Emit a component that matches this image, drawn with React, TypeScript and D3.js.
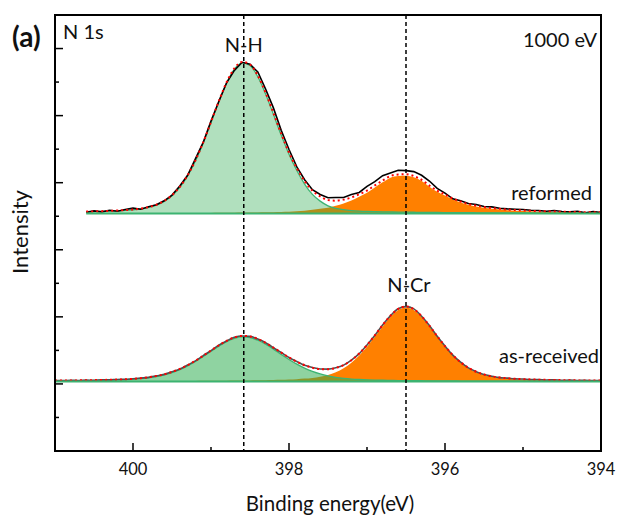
import * as d3 from "d3";

// binding energy grid (eV), read every 0.1 eV across the plot
const ENERGY = [
  401.0, 400.9, 400.8, 400.7, 400.6, 400.5, 400.4, 400.3, 400.2, 400.1,
  400.0, 399.9, 399.8, 399.7, 399.6, 399.5, 399.4, 399.3, 399.2, 399.1,
  399.0, 398.9, 398.8, 398.7, 398.6, 398.5, 398.4, 398.3, 398.2, 398.1,
  398.0, 397.9, 397.8, 397.7, 397.6, 397.5, 397.4, 397.3, 397.2, 397.1,
  397.0, 396.9, 396.8, 396.7, 396.6, 396.5, 396.4, 396.3, 396.2, 396.1,
  396.0, 395.9, 395.8, 395.7, 395.6, 395.5, 395.4, 395.3, 395.2, 395.1,
  395.0, 394.9, 394.8, 394.7, 394.6, 394.5, 394.4, 394.3, 394.2, 394.1,
  394.0,
];

// as-received spectrum (counts above its baseline)
const AR_NH = [
  2.1, 2.3, 2.5, 2.7, 3.0, 3.3, 3.7, 4.2, 4.9, 5.7,
  7.0, 8.8, 11.4, 15.0, 20.1, 27.0, 35.9, 46.9, 60.0, 74.8,
  90.3, 105.6, 118.9, 128.6, 133.0, 131.0, 123.3, 111.2, 96.6, 80.9,
  65.8, 51.9, 40.0, 30.3, 22.6, 16.9, 12.7, 9.7, 7.6, 6.2,
  5.2, 4.4, 3.9, 3.5, 3.1, 2.8, 2.6, 2.4, 2.2, 2.0,
  1.9, 1.8, 1.6, 1.5, 1.4, 1.3, 1.3, 1.2, 1.1, 1.1,
  1.0, 1.0, 0.9, 0.9, 0.8, 0.8, 0.7, 0.7, 0.7, 0.6,
  0.6,
];
const AR_NCR = [
  0.8, 0.8, 0.9, 0.9, 0.9, 1.0, 1.0, 1.1, 1.1, 1.2,
  1.2, 1.3, 1.4, 1.5, 1.6, 1.7, 1.8, 1.9, 2.0, 2.2,
  2.3, 2.5, 2.7, 2.9, 3.2, 3.5, 3.9, 4.3, 4.8, 5.4,
  6.2, 7.3, 8.8, 11.0, 14.4, 19.8, 27.9, 39.6, 56.0, 77.4,
  103.6, 133.4, 164.5, 192.7, 213.6, 221.0, 213.6, 192.7, 164.5, 133.4,
  103.6, 77.4, 56.0, 39.6, 27.9, 19.8, 14.4, 11.0, 8.8, 7.3,
  6.2, 5.4, 4.8, 4.3, 3.9, 3.5, 3.2, 2.9, 2.7, 2.5,
  2.3,
];
const AR_FIT = [
  2.9, 3.1, 3.4, 3.6, 3.9, 4.3, 4.7, 5.3, 6.0, 6.9,
  8.2, 10.1, 12.8, 16.5, 21.7, 28.7, 37.7, 48.8, 62.0, 77.0,
  92.6, 108.1, 121.6, 131.5, 136.2, 134.5, 127.2, 115.5, 101.4, 86.3,
  72.0, 59.2, 48.8, 41.3, 37.0, 36.7, 40.6, 49.3, 63.6, 83.6,
  108.8, 137.8, 168.4, 196.2, 216.7, 223.8, 216.2, 195.1, 166.7, 135.4,
  105.5, 79.2, 57.6, 41.1, 29.3, 21.1, 15.7, 12.2, 9.9, 8.4,
  7.2, 6.4, 5.7, 5.2, 4.7, 4.3, 3.9, 3.6, 3.4, 3.1,
  2.9,
];
const AR_RAW = [
  3.2, 2.8, 3.6, 3.3, 4.2, 4.0, 5.1, 5.0, 6.4, 6.6,
  8.5, 10.4, 12.5, 16.9, 21.4, 29.2, 37.4, 49.3, 61.6, 77.5,
  92.2, 108.6, 121.2, 131.9, 136.0, 134.9, 126.8, 115.9, 101.0, 86.7,
  71.6, 59.6, 48.5, 41.8, 37.6, 37.2, 41.0, 49.0, 63.9, 83.2,
  109.2, 137.4, 168.8, 195.8, 217.1, 223.5, 216.6, 194.7, 167.0, 135.0,
  105.9, 78.8, 57.9, 40.8, 29.6, 20.8, 16.0, 11.9, 10.2, 8.1,
  7.5, 6.1, 6.0, 4.9, 5.0, 4.0, 4.2, 3.3, 3.7, 2.8,
  3.1,
];

// reformed spectrum (starts at 400.6 eV)
const RF_NH = [
  null, null, null, null, 5.1, 5.6, 6.2, 7.0, 7.9, 9.2,
  11.0, 13.7, 18.1, 25.1, 36.1, 53.1, 77.8, 112.0, 156.4, 210.3,
  270.9, 333.0, 389.1, 430.6, 449.4, 441.2, 407.9, 356.6, 295.9, 234.0,
  176.9, 128.5, 88.0, 57.0, 37.0, 23.0, 15.5, 11.5, 9.0, 7.5,
  6.5, 5.8, 5.2, 4.8, 4.4, 4.1, 3.8, 3.5, 3.3, 3.1,
  2.9, 2.7, 2.6, 2.4, 2.3, 2.2, 2.1, 2.0, 1.9, 1.8,
  1.7, 1.6, 1.5, 1.4, 1.4, 1.3, 1.2, 1.2, 1.1, 1.1,
  1.0,
];
const RF_NCR = [
  null, null, null, null, 0.9, 0.9, 0.9, 1.0, 1.0, 1.1,
  1.1, 1.2, 1.3, 1.3, 1.4, 1.5, 1.6, 1.7, 1.8, 1.9,
  2.0, 2.2, 2.4, 2.6, 2.8, 3.0, 3.3, 3.6, 4.0, 4.5,
  5.0, 6.5, 8.5, 11, 14, 17, 23, 30, 39, 50,
  62, 78, 93, 107, 112, 113, 108, 97, 80, 65,
  54, 42, 33, 26, 21, 17, 14, 12, 10, 8.5,
  7.5, 6.5, 5.5, 5.0, 4.5, 4.0, 3.6, 3.3, 3.0, 2.8,
  2.6,
];
const RF_FIT = [
  null, null, null, null, 6.0, 6.5, 7.1, 8.0, 8.9, 10.3,
  12.1, 14.9, 19.4, 26.4, 37.5, 54.6, 79.4, 113.7, 158.2, 212.2,
  272.9, 335.2, 391.5, 433.2, 452.2, 444.2, 411.2, 360.2, 299.9, 238.5,
  181.9, 135.0, 96.5, 68.0, 51.0, 40.0, 38.5, 41.5, 48.0, 57.5,
  68.5, 83.8, 98.2, 111.8, 116.4, 117.1, 111.8, 100.5, 83.3, 68.1,
  56.9, 44.7, 35.6, 28.4, 23.3, 19.2, 16.1, 14.0, 11.9, 10.3,
  9.2, 8.1, 7.0, 6.4, 5.9, 5.3, 4.8, 4.5, 4.1, 3.9,
  3.6,
];
const RF_RAW = [
  null, null, null, null, 4, 8, 5, 10, 7, 12,
  16, 13, 20, 26, 38, 55, 82, 114, 163, 212,
  276, 334, 390, 427, 451, 445, 422, 371, 315, 248,
  191, 139, 101, 71, 57, 47, 48, 48, 57, 63,
  81, 95, 113, 121, 129, 128, 125, 114, 97, 75,
  61, 44, 38, 30, 27, 21, 20, 16, 14, 13,
  12, 10, 9, 7, 9, 6, 5, 7, 2, 6,
  3,
];

// vertical offsets of the stacked spectra, and peak positions
const AR_OFFSET = 207;
const RF_OFFSET = 708;
const PEAK_NH = 398.58;
const PEAK_NCR = 396.5;

const X_MAJOR = [400, 398, 396, 394];
const X_MINOR = [399, 397, 395];
const Y_MAJOR = [200, 400, 600, 800, 1000, 1200];
const Y_MINOR = [100, 300, 500, 700, 900, 1100];

const FONT = "Lato, 'Open Sans', sans-serif";

type Series = (number | null)[];

function Spectrum({
  x,
  y,
  offset,
  nh,
  ncr,
  fit,
  raw,
  greenFill,
  rawColor,
  rawCurve,
}: {
  x: d3.ScaleLinear<number, number>;
  y: d3.ScaleLinear<number, number>;
  offset: number;
  nh: Series;
  ncr: Series;
  fit: Series;
  raw: Series;
  greenFill: string;
  rawColor: string;
  rawCurve: d3.CurveFactory;
}) {
  const idx = d3.range(ENERGY.length);
  const area = (s: Series) =>
    d3
      .area<number>()
      .defined((i) => s[i] != null)
      .x((i) => x(ENERGY[i]))
      .y0(y(offset))
      .y1((i) => y(offset + (s[i] as number)))
      .curve(d3.curveMonotoneX)(idx) ?? "";
  const line = (s: Series, curve: d3.CurveFactory = d3.curveMonotoneX) =>
    d3
      .line<number>()
      .defined((i) => s[i] != null)
      .x((i) => x(ENERGY[i]))
      .y((i) => y(offset + (s[i] as number)))
      .curve(curve)(idx) ?? "";
  const base =
    d3
      .line<number>()
      .defined((i) => nh[i] != null)
      .x((i) => x(ENERGY[i]))
      .y(() => y(offset))(idx) ?? "";

  return (
    <g>
      <path d={area(ncr)} fill="#ff8000" />
      <path d={area(nh)} fill={greenFill} />
      <path d={line(nh)} fill="none" stroke="#3cb371" strokeWidth={1.3} />
      <path d={line(raw, rawCurve)} fill="none" stroke={rawColor} strokeWidth={1.6} />
      <path d={line(fit)} fill="none" stroke="#ff0000" strokeWidth={2} strokeDasharray="2,3" />
      <path d={base} fill="none" stroke="#3cb371" strokeWidth={2} />
    </g>
  );
}

export default function App() {
  const left = 55;
  const right = 601;
  const top = 15;
  const bottom = 451;
  const x = d3.scaleLinear().domain([401, 394]).range([left, right]);
  const y = d3.scaleLinear().domain([0, 1300]).range([bottom, top]);

  return (
    <svg
      width={617}
      height={516}
      style={{ position: "absolute", left: 0, top: 0, background: "#fff" }}
      fontFamily={FONT}
    >
      <Spectrum
        x={x}
        y={y}
        offset={AR_OFFSET}
        nh={AR_NH}
        ncr={AR_NCR}
        fit={AR_FIT}
        raw={AR_RAW}
        greenFill="rgba(40,170,75,0.52)"
        rawColor="#505050"
        rawCurve={d3.curveMonotoneX}
      />
      <Spectrum
        x={x}
        y={y}
        offset={RF_OFFSET}
        nh={RF_NH}
        ncr={RF_NCR}
        fit={RF_FIT}
        raw={RF_RAW}
        greenFill="rgba(40,170,75,0.36)"
        rawColor="#000"
        rawCurve={d3.curveLinear}
      />

      {/* peak position markers */}
      {[PEAK_NH, PEAK_NCR].map((p) => (
        <line
          key={p}
          x1={x(p)}
          x2={x(p)}
          y1={top}
          y2={bottom}
          stroke="#000"
          strokeWidth={1.5}
          strokeDasharray="4,3"
        />
      ))}

      {/* ticks point inward */}
      {X_MAJOR.map((t) => (
        <line key={"xM" + t} x1={x(t)} x2={x(t)} y1={bottom} y2={bottom - 8} stroke="#000" strokeWidth={1.5} />
      ))}
      {X_MINOR.map((t) => (
        <line key={"xm" + t} x1={x(t)} x2={x(t)} y1={bottom} y2={bottom - 4} stroke="#000" strokeWidth={1.5} />
      ))}
      {Y_MAJOR.map((t) => (
        <line key={"yM" + t} x1={left} x2={left + 8} y1={y(t)} y2={y(t)} stroke="#000" strokeWidth={1.5} />
      ))}
      {Y_MINOR.map((t) => (
        <line key={"ym" + t} x1={left} x2={left + 4} y1={y(t)} y2={y(t)} stroke="#000" strokeWidth={1.5} />
      ))}
      <rect x={left} y={top} width={right - left} height={bottom - top} fill="none" stroke="#000" strokeWidth={2} />

      {X_MAJOR.map((t) => (
        <text key={"xl" + t} x={x(t)} y={475} textAnchor="middle" fontSize={16.5} fill="#111">
          {t}
        </text>
      ))}

      <text x={330} y={511} textAnchor="middle" fontSize={20.5} fill="#111">
        Binding energy(eV)
      </text>
      <text transform="translate(28,232) rotate(-90)" textAnchor="middle" fontSize={22} fill="#111">
        Intensity
      </text>

      <text x={12} y={47} fontSize={28} fontWeight="bold" fill="#111">
        (a)
      </text>
      <text x={63} y={39} fontSize={20} fill="#111">
        N 1s
      </text>
      <text x={597} y={47} textAnchor="end" fontSize={20} fill="#111">
        1000 eV
      </text>
      <text x={x(PEAK_NH)} y={52} textAnchor="middle" fontSize={20} fill="#111">
        N-H
      </text>
      <text x={409} y={292} textAnchor="middle" fontSize={20} fill="#111">
        N-Cr
      </text>
      <text x={592} y={200} textAnchor="end" fontSize={20} fill="#111">
        reformed
      </text>
      <text x={599} y={363} textAnchor="end" fontSize={20} fill="#111">
        as-received
      </text>
    </svg>
  );
}
